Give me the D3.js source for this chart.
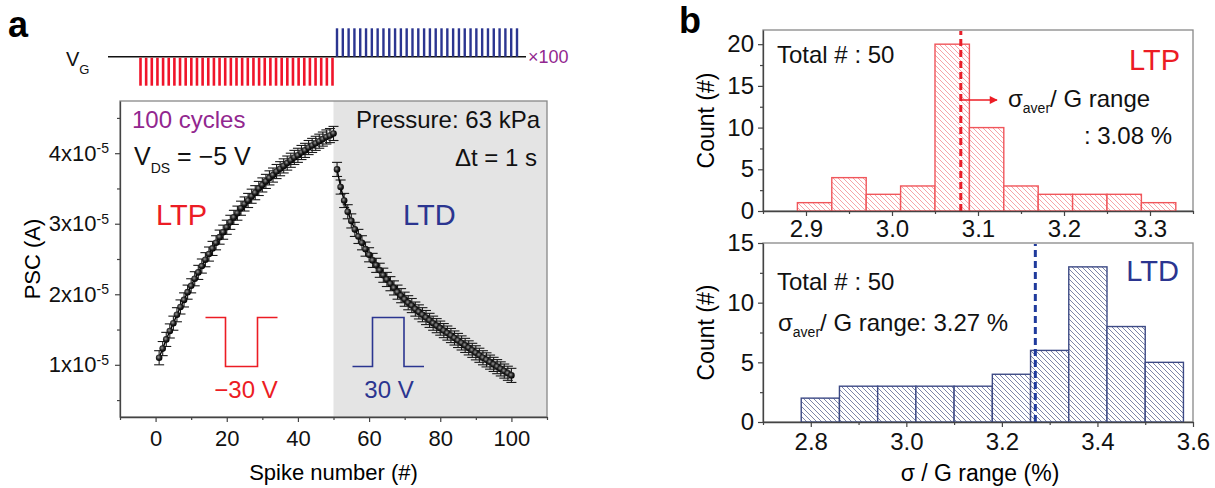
<!DOCTYPE html>
<html>
<head>
<meta charset="utf-8">
<script src="https://cdn.jsdelivr.net/npm/d3@7"></script>
<style>
body { margin: 0; background: #fff; }
svg text { font-family: "Liberation Sans", Arial, sans-serif; }
</style>
</head>
<body>
<script>
// ---- data (PSC in units of 1e-5 A) ----
var ltpPSC = [1.10,1.23,1.36,1.48,1.59,1.71,1.82,1.92,2.03,2.12,
              2.22,2.31,2.40,2.49,2.57,2.65,2.73,2.81,2.88,2.95,
              3.02,3.09,3.15,3.22,3.28,3.33,3.39,3.44,3.50,3.55,
              3.60,3.65,3.69,3.74,3.78,3.82,3.86,3.90,3.94,3.97,
              4.01,4.04,4.08,4.11,4.14,4.17,4.20,4.23,4.25,4.28];
var ltdPSC = [3.77,3.52,3.33,3.17,3.04,2.92,2.82,2.73,2.64,2.56,
              2.48,2.41,2.34,2.27,2.21,2.15,2.09,2.03,1.98,1.93,
              1.88,1.84,1.79,1.75,1.71,1.67,1.63,1.59,1.555,1.52,
              1.485,1.45,1.415,1.38,1.345,1.31,1.275,1.24,1.205,1.17,
              1.135,1.10,1.07,1.038,1.006,0.974,0.942,0.911,0.88,0.85];
var pscErr = 0.1;
var ltpPulses = 35, ltdPulses = 32;

var ltpEdges = [2.89,2.93,2.97,3.01,3.05,3.09,3.13,3.17,3.21,3.25,3.29,3.33];
var ltpCounts = [1,4,2,3,20,10,3,2,2,2,1];
var ltpMean = 3.08;
var ltdEdges = [2.78,2.86,2.94,3.02,3.10,3.18,3.26,3.34,3.42,3.50,3.58];
var ltdCounts = [2,3,3,3,3,4,6,13,8,5];
var ltdMean = 3.27;

var aXTicks = [0,20,40,60,80,100], aXMinor = [-10,10,30,50,70,90,110];
var aYTicks = [1,2,3,4], aYMinor = [0.5,1.5,2.5,3.5,4.5];
var tXTicks = [2.9,3.0,3.1,3.2,3.3], tXMinor = [2.85,2.95,3.05,3.15,3.25,3.35];
var tYTicks = [0,5,10,15,20], tYMinor = [2.5,7.5,12.5,17.5];
var bXTicks = [2.8,3.0,3.2,3.4,3.6], bXMinor = [2.7,2.9,3.1,3.3,3.5];
var bYTicks = [0,5,10,15], bYMinor = [2.5,7.5,12.5];

var red = "#ec1c24", navy = "#2b3590", purple = "#92278f";
var W = 1215, H = 488;

var svg = d3.select("body").append("svg").attr("width", W).attr("height", H);
svg.append("rect").attr("width", W).attr("height", H).attr("fill", "#fff");
var defs = svg.append("defs");

function styleAxis(g, fs) {
  g.select(".domain").attr("stroke", "#444").attr("stroke-width", 1.3);
  g.selectAll(".tick line").attr("stroke", "#444").attr("stroke-width", 1.2);
  g.selectAll(".tick text").attr("font-size", fs).attr("fill", "#111")
    .attr("font-family", "Liberation Sans, Arial, sans-serif");
}
function minorAxis(axis, vals, tr) {
  var g = svg.append("g").attr("transform", tr)
    .call(axis.tickValues(vals).tickSize(3).tickFormat(""));
  g.select(".domain").remove();
  g.selectAll(".tick line").attr("stroke", "#444").attr("stroke-width", 1.2);
}

// ================= panel a =================
var xA = d3.scaleLinear().domain([-10, 110]).range([120, 547]);
var yA = d3.scaleLinear().domain([0.26, 4.74]).range([417, 101]);

svg.append("rect").attr("x", xA(50)).attr("y", yA(4.74))
  .attr("width", xA(110) - xA(50)).attr("height", yA(0.26) - yA(4.74))
  .attr("fill", "#e4e4e4");
svg.append("rect").attr("x", xA(-10)).attr("y", yA(4.74))
  .attr("width", xA(110) - xA(-10)).attr("height", yA(0.26) - yA(4.74))
  .attr("fill", "none").attr("stroke", "#888").attr("stroke-width", 1.3);

var gxA = svg.append("g").attr("transform", "translate(0," + yA(0.26) + ")")
  .call(d3.axisBottom(xA).tickValues(aXTicks).tickSize(5).tickPadding(8).tickSizeOuter(0));
styleAxis(gxA, 22);
minorAxis(d3.axisBottom(xA), aXMinor, "translate(0," + yA(0.26) + ")");

var gyA = svg.append("g").attr("transform", "translate(" + xA(-10) + ",0)")
  .call(d3.axisLeft(yA).tickValues(aYTicks).tickSize(5).tickPadding(6).tickSizeOuter(0));
styleAxis(gyA, 22);
gyA.selectAll(".tick text").each(function(d) {
  var t = d3.select(this).text("");
  t.append("tspan").text(d + "x10");
  t.append("tspan").attr("dy", "-0.55em").attr("font-size", 14).text("-5");
});
minorAxis(d3.axisLeft(yA), aYMinor, "translate(" + xA(-10) + ",0)");

svg.append("text").attr("transform", "translate(40," + yA(2.5) + ") rotate(-90)")
  .attr("text-anchor", "middle").attr("font-size", 22).text("PSC (A)");
svg.append("text").attr("x", xA(50)).attr("y", 480)
  .attr("text-anchor", "middle").attr("font-size", 22).text("Spike number (#)");

// data points with error bars
var pts = ltpPSC.map(function(v, i) { return {n: i + 1, v: v}; })
  .concat(ltdPSC.map(function(v, i) { return {n: i + 51, v: v}; }));

var grad = defs.append("radialGradient").attr("id", "ball").attr("cx", "40%").attr("cy", "40%").attr("r", "60%");
grad.append("stop").attr("offset", "0%").attr("stop-color", "#999");
grad.append("stop").attr("offset", "55%").attr("stop-color", "#222");
grad.append("stop").attr("offset", "100%").attr("stop-color", "#000");

var eb = svg.append("g").attr("stroke", "#1a1a1a").attr("stroke-width", 1.1);
pts.forEach(function(p) {
  var x = xA(p.n);
  eb.append("line").attr("x1", x).attr("x2", x).attr("y1", yA(p.v - pscErr)).attr("y2", yA(p.v + pscErr));
  eb.append("line").attr("x1", x - 5).attr("x2", x + 5).attr("y1", yA(p.v - pscErr)).attr("y2", yA(p.v - pscErr));
  eb.append("line").attr("x1", x - 5).attr("x2", x + 5).attr("y1", yA(p.v + pscErr)).attr("y2", yA(p.v + pscErr));
});
var line = d3.line().x(function(d) { return xA(d.n); }).y(function(d) { return yA(d.v); });
svg.append("path").datum(pts.slice(0, 50)).attr("d", line).attr("fill", "none").attr("stroke", "#000").attr("stroke-width", 1.4);
svg.append("path").datum(pts.slice(50)).attr("d", line).attr("fill", "none").attr("stroke", "#000").attr("stroke-width", 1.4);
svg.append("g").selectAll("circle").data(pts).join("circle")
  .attr("cx", function(d) { return xA(d.n); }).attr("cy", function(d) { return yA(d.v); })
  .attr("r", 3.3).attr("fill", "url(#ball)");

// annotations in panel a
svg.append("text").attr("x", 132).attr("y", 128).attr("font-size", 24).attr("fill", purple).text("100 cycles");
var vds = svg.append("text").attr("x", 134).attr("y", 165).attr("font-size", 25).attr("fill", "#111");
vds.append("tspan").text("V");
vds.append("tspan").attr("font-size", 14).attr("dy", 8).text("DS");
vds.append("tspan").attr("dy", -8).text(" = \u22125 V");
svg.append("text").attr("x", 156).attr("y", 225).attr("font-size", 29).attr("fill", red).text("LTP");
svg.append("text").attr("x", 540).attr("y", 128).attr("text-anchor", "end").attr("font-size", 24).attr("fill", "#111").text("Pressure: 63 kPa");
svg.append("text").attr("x", 537).attr("y", 166).attr("text-anchor", "end").attr("font-size", 24).attr("fill", "#111").text("\u0394t = 1 s");
svg.append("text").attr("x", 403).attr("y", 225).attr("font-size", 29).attr("fill", navy).text("LTD");

function pulse(x0, x1, x2, x3, base, peak) {
  return "M" + x0 + "," + base + "H" + x1 + "V" + peak + "H" + x2 + "V" + base + "H" + x3;
}
svg.append("path").attr("d", pulse(205.5, 225.5, 257.5, 277.5, 317.5, 366.5))
  .attr("fill", "none").attr("stroke", red).attr("stroke-width", 1.6);
svg.append("text").attr("x", 246).attr("y", 398).attr("text-anchor", "middle").attr("font-size", 24).attr("fill", red).text("\u221230 V");
svg.append("path").attr("d", pulse(352.5, 372.5, 404, 424, 366.5, 317.5))
  .attr("fill", "none").attr("stroke", navy).attr("stroke-width", 1.6);
svg.append("text").attr("x", 389).attr("y", 398).attr("text-anchor", "middle").attr("font-size", 24).attr("fill", navy).text("30 V");

// V_G pulse train
var vgY = 56.7;
svg.append("line").attr("x1", 108).attr("x2", 526).attr("y1", vgY).attr("y2", vgY).attr("stroke", "#111").attr("stroke-width", 1.6);
var pxR = d3.scaleLinear().domain([0, ltpPulses - 1]).range([140.5, 332.5]);
svg.append("g").selectAll("rect").data(d3.range(ltpPulses)).join("rect")
  .attr("x", function(i) { return pxR(i) - 1.3; }).attr("y", vgY + 1).attr("width", 2.6).attr("height", 28)
  .attr("fill", "#f0142a");
var pxB = d3.scaleLinear().domain([0, ltdPulses - 1]).range([337, 517]);
svg.append("g").selectAll("rect").data(d3.range(ltdPulses)).join("rect")
  .attr("x", function(i) { return pxB(i) - 1.2; }).attr("y", 28.3).attr("width", 2.4).attr("height", vgY - 28.3)
  .attr("fill", navy);
var vg = svg.append("text").attr("x", 66).attr("y", 66).attr("font-size", 20).attr("fill", "#111");
vg.append("tspan").text("V");
vg.append("tspan").attr("font-size", 13).attr("dy", 8).text("G");
svg.append("text").attr("x", 528).attr("y", 63).attr("font-size", 18).attr("fill", purple).text("\u00d7100");

svg.append("text").attr("x", 8).attr("y", 37).attr("font-size", 36).attr("font-weight", "bold").text("a");
svg.append("text").attr("x", 679).attr("y", 33).attr("font-size", 36).attr("font-weight", "bold").text("b");

// ================= panel b =================
function hatch(id, color) {
  var p = defs.append("pattern").attr("id", id).attr("patternUnits", "userSpaceOnUse")
    .attr("width", 5).attr("height", 5);
  p.append("rect").attr("width", 5).attr("height", 5).attr("fill", "#fff");
  p.append("path").attr("d", "M0,0L5,5M-1,4L1,6M4,-1L6,1").attr("stroke", color).attr("stroke-width", 0.9);
}
hatch("hRed", "#f59a9e");
hatch("hBlue", "#6e779f");

function histPanel(o) {
  var x = d3.scaleLinear().domain(o.xd).range([763, 1193]);
  var y = d3.scaleLinear().domain(o.yd).range([o.bottom, o.top]);
  svg.append("rect").attr("x", 763).attr("y", o.top).attr("width", 430).attr("height", o.bottom - o.top)
    .attr("fill", "none").attr("stroke", "#888").attr("stroke-width", 1.3);
  svg.append("g").selectAll("rect").data(o.counts).join("rect")
    .attr("x", function(d, i) { return x(o.edges[i]); })
    .attr("width", function(d, i) { return x(o.edges[i + 1]) - x(o.edges[i]); })
    .attr("y", function(d) { return y(d); })
    .attr("height", function(d) { return y(0) - y(d); })
    .attr("fill", o.fill).attr("stroke", o.stroke).attr("stroke-width", 1.4);
  svg.append("line").attr("x1", x(o.mean)).attr("x2", x(o.mean)).attr("y1", y(0)).attr("y2", o.top + 1)
    .attr("stroke", o.dash).attr("stroke-width", 3).attr("stroke-dasharray", "7,4");
  var gx = svg.append("g").attr("transform", "translate(0," + o.bottom + ")")
    .call(d3.axisBottom(x).tickValues(o.xt).tickFormat(d3.format(".1f")).tickSize(5).tickPadding(o.xpad).tickSizeOuter(0));
  styleAxis(gx, 24);
  minorAxis(d3.axisBottom(x), o.xm, "translate(0," + o.bottom + ")");
  var gy = svg.append("g").attr("transform", "translate(763,0)")
    .call(d3.axisLeft(y).tickValues(o.yt).tickSize(5).tickPadding(4).tickSizeOuter(0));
  styleAxis(gy, 24);
  minorAxis(d3.axisLeft(y), o.ym, "translate(763,0)");
  svg.append("text").attr("transform", "translate(714," + ((o.top + o.bottom) / 2) + ") rotate(-90)")
    .attr("text-anchor", "middle").attr("font-size", 23).text("Count (#)");
  return {x: x, y: y};
}

var ltpPanel = histPanel({xd: [2.85, 3.35], yd: [0, 21.7], top: 30, bottom: 211,
  edges: ltpEdges, counts: ltpCounts, mean: ltpMean, fill: "url(#hRed)", stroke: "#f0565b", dash: "#e8202a",
  xt: tXTicks, xm: tXMinor, yt: tYTicks, ym: tYMinor, xpad: 4});
var ltdPanel = histPanel({xd: [2.7, 3.6], yd: [0, 15], top: 243, bottom: 422,
  edges: ltdEdges, counts: ltdCounts, mean: ltdMean, fill: "url(#hBlue)", stroke: "#3d4a85", dash: "#1f3a9c",
  xt: bXTicks, xm: bXMinor, yt: bYTicks, ym: bYMinor, xpad: 6});

svg.append("text").attr("x", 980).attr("y", 481).attr("text-anchor", "middle").attr("font-size", 23).text("\u03c3 / G range (%)");

// top annotations
svg.append("text").attr("x", 777).attr("y", 63).attr("font-size", 24).attr("fill", "#111").text("Total # : 50");
svg.append("text").attr("x", 1180).attr("y", 70).attr("text-anchor", "end").attr("font-size", 29).attr("fill", red).text("LTP");
defs.append("marker").attr("id", "arr").attr("viewBox", "0 0 10 10").attr("refX", 9).attr("refY", 5)
  .attr("markerWidth", 10).attr("markerHeight", 8).attr("orient", "auto").attr("markerUnits", "userSpaceOnUse")
  .append("path").attr("d", "M0,0L10,5L0,10z").attr("fill", red);
svg.append("line").attr("x1", ltpPanel.x(ltpMean) + 1).attr("x2", ltpPanel.x(3.122))
  .attr("y1", ltpPanel.y(13.3)).attr("y2", ltpPanel.y(13.3))
  .attr("stroke", red).attr("stroke-width", 1.6).attr("marker-end", "url(#arr)");
var s1 = svg.append("text").attr("x", 1008).attr("y", 107).attr("font-size", 24).attr("fill", "#111");
s1.append("tspan").text("\u03c3");
s1.append("tspan").attr("font-size", 14).attr("dy", 6).text("aver");
s1.append("tspan").attr("dy", -6).text("/ G range");
svg.append("text").attr("x", 1172).attr("y", 144).attr("text-anchor", "end").attr("font-size", 24).attr("fill", "#111").text(": 3.08 %");

// bottom annotations
svg.append("text").attr("x", 777).attr("y", 290).attr("font-size", 24).attr("fill", "#111").text("Total # : 50");
svg.append("text").attr("x", 1179).attr("y", 281).attr("text-anchor", "end").attr("font-size", 29).attr("fill", navy).text("LTD");
var s2 = svg.append("text").attr("x", 778).attr("y", 331).attr("font-size", 24).attr("fill", "#111");
s2.append("tspan").text("\u03c3");
s2.append("tspan").attr("font-size", 14).attr("dy", 6).text("aver");
s2.append("tspan").attr("dy", -6).text("/ G range: 3.27 %");
</script>
</body>
</html>
